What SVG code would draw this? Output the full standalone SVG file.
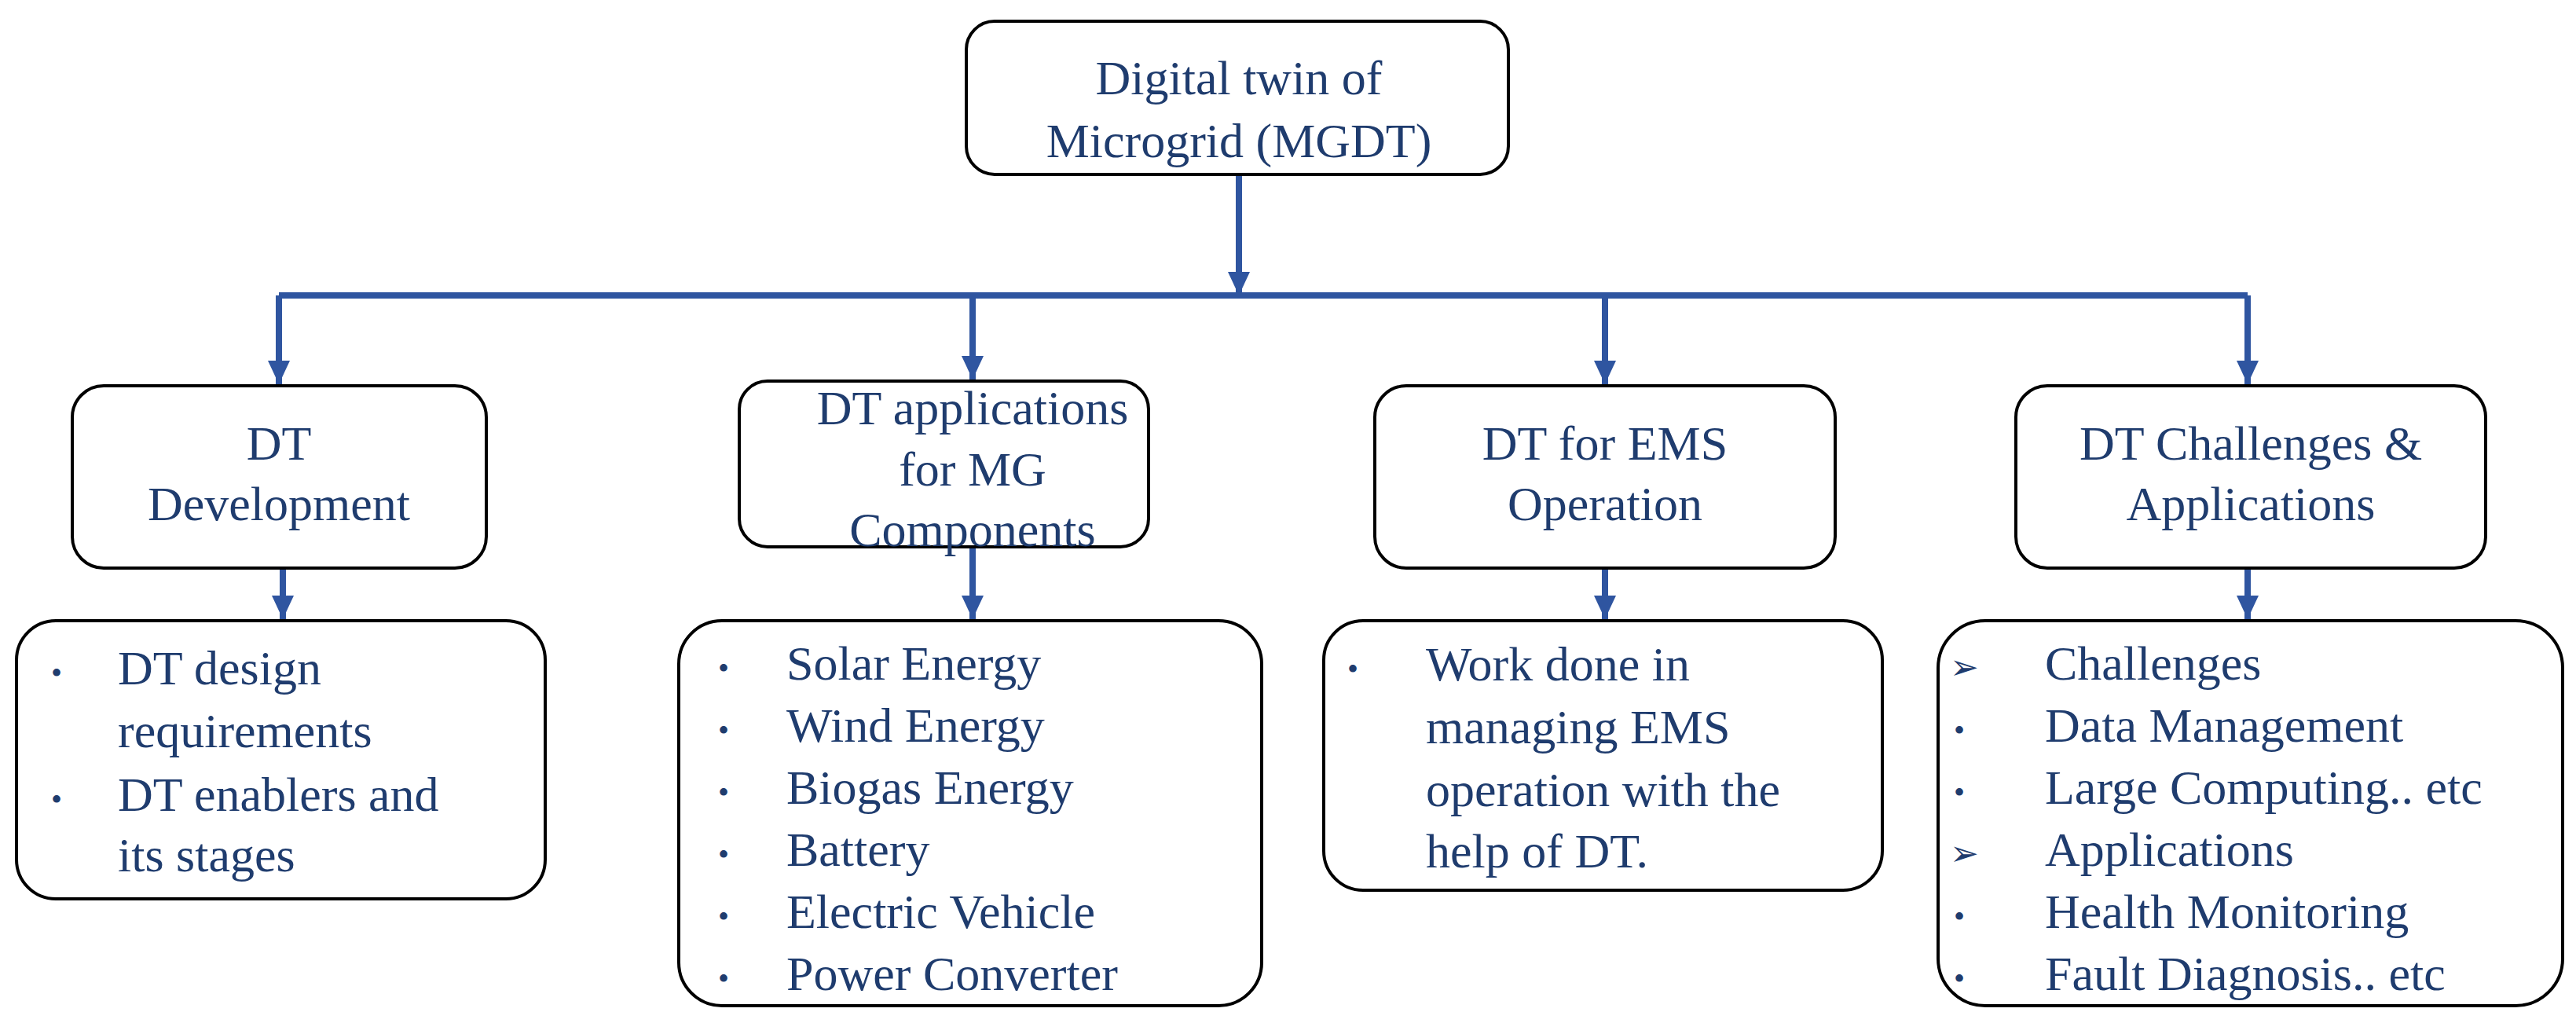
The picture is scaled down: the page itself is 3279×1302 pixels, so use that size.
<svg xmlns="http://www.w3.org/2000/svg" width="3279" height="1302" viewBox="0 0 3279 1302">
<style>
.box{fill:#fff;stroke:#000;stroke-width:4}
.t{font-family:"Liberation Serif",serif;font-size:62px;fill:#1F3C6E}
.c{text-anchor:middle}
.b{font-family:"Liberation Serif",serif;font-size:40px;fill:#1F3C6E}
.ar{font-family:"DejaVu Sans",sans-serif;font-size:44px;fill:#1F3C6E}
.ln{fill:none;stroke:#2F55A0;stroke-width:8}
</style>
<defs>
<marker id="ah" markerUnits="userSpaceOnUse" markerWidth="28" markerHeight="30" refX="14" refY="28" orient="auto-start-reverse" viewBox="0 0 28 30">
<path d="M0,0 L14,8 L28,0 L14,30 Z" fill="#2F55A0" transform="rotate(0)"/>
</marker>
<marker id="ad" markerUnits="userSpaceOnUse" markerWidth="28" markerHeight="30" refX="14" refY="30" orient="0" viewBox="0 0 28 30">
<path d="M0,0 L28,0 L14,30 Z" fill="#2F55A0"/>
</marker>
</defs>
<g id="connectors">
<path class="ln" d="M1577,222 V376" marker-end="url(#ad)"/>
<path class="ln" d="M355,376 H2861"/>
<path class="ln" d="M355,376 V489" marker-end="url(#ad)"/>
<path class="ln" d="M1238,376 V483" marker-end="url(#ad)"/>
<path class="ln" d="M2043,376 V489" marker-end="url(#ad)"/>
<path class="ln" d="M2861,376 V489" marker-end="url(#ad)"/>
<path class="ln" d="M360,723 V788" marker-end="url(#ad)"/>
<path class="ln" d="M1238,696 V788" marker-end="url(#ad)"/>
<path class="ln" d="M2043,723 V788" marker-end="url(#ad)"/>
<path class="ln" d="M2861,723 V788" marker-end="url(#ad)"/>
</g>
<g id="root">
<rect class="box" x="1230" y="27" width="690" height="195" rx="36"/>
<text class="t c" x="1577" y="120">Digital twin of</text>
<text class="t c" x="1577" y="200">Microgrid (MGDT)</text>
</g>
<g id="dev">
<rect class="box" x="92" y="491" width="527" height="232" rx="40"/>
<text class="t c" x="355" y="585">DT</text>
<text class="t c" x="355" y="662">Development</text>
</g>
<g id="apps">
<rect class="box" x="941" y="485" width="521" height="211" rx="36"/>
<text class="t c" x="1238" y="540">DT applications</text>
<text class="t c" x="1238" y="618">for MG</text>
<text class="t c" x="1238" y="695">Components</text>
</g>
<g id="ems">
<rect class="box" x="1750" y="491" width="586" height="232" rx="40"/>
<text class="t c" x="2043" y="585">DT for EMS</text>
<text class="t c" x="2043" y="662">Operation</text>
</g>
<g id="chal">
<rect class="box" x="2566" y="491" width="598" height="232" rx="40"/>
<text class="t c" x="2865" y="585">DT Challenges &amp;</text>
<text class="t c" x="2865" y="662">Applications</text>
</g>
<g id="devList">
<rect class="box" x="21" y="790" width="673" height="354" rx="50"/>
<text class="b" x="65" y="870">•</text><text class="t" x="150" y="871">DT design</text>
<text class="t" x="150" y="951">requirements</text>
<text class="b" x="65" y="1031">•</text><text class="t" x="150" y="1032">DT enablers and</text>
<text class="t" x="150" y="1109">its stages</text>
</g>
<g id="appsList">
<rect class="box" x="864" y="790" width="742" height="490" rx="55"/>
<text class="b" x="914" y="864">•</text><text class="t" x="1001" y="865">Solar Energy</text>
<text class="b" x="914" y="943">•</text><text class="t" x="1001" y="944">Wind Energy</text>
<text class="b" x="914" y="1022">•</text><text class="t" x="1001" y="1023">Biogas Energy</text>
<text class="b" x="914" y="1101">•</text><text class="t" x="1001" y="1102">Battery</text>
<text class="b" x="914" y="1180">•</text><text class="t" x="1001" y="1181">Electric Vehicle</text>
<text class="b" x="914" y="1259">•</text><text class="t" x="1001" y="1260">Power Converter</text>
</g>
<g id="emsList">
<rect class="box" x="1685" y="790" width="711" height="343" rx="50"/>
<text class="b" x="1715" y="865">•</text><text class="t" x="1815" y="866">Work done in</text>
<text class="t" x="1815" y="946">managing EMS</text>
<text class="t" x="1815" y="1026">operation with the</text>
<text class="t" x="1815" y="1104">help of DT.</text>
</g>
<g id="chalList">
<rect class="box" x="2467" y="790" width="795" height="490" rx="60"/>
<text class="ar" x="2482" y="864">➢</text><text class="t" x="2603" y="865">Challenges</text>
<text class="b" x="2487" y="943">•</text><text class="t" x="2603" y="944">Data Management</text>
<text class="b" x="2487" y="1022">•</text><text class="t" x="2603" y="1023">Large Computing.. etc</text>
<text class="ar" x="2482" y="1101">➢</text><text class="t" x="2603" y="1102">Applications</text>
<text class="b" x="2487" y="1180">•</text><text class="t" x="2603" y="1181">Health Monitoring</text>
<text class="b" x="2487" y="1259">•</text><text class="t" x="2603" y="1260">Fault Diagnosis.. etc</text>
</g>
</svg>
